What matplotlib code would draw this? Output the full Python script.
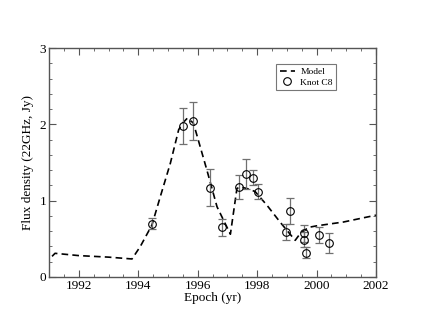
import matplotlib
matplotlib.use("Agg")
import matplotlib.pyplot as plt
import numpy as np
from matplotlib.ticker import MultipleLocator

# observed fluxes, knot C8
epoch = [1994.46, 1995.49, 1995.84, 1996.42, 1996.82, 1997.40, 1997.61, 1997.86,
         1998.02, 1998.98, 1999.10, 1999.58, 1999.59, 1999.64, 2000.07, 2000.43]
flux = [0.70, 1.98, 2.04, 1.17, 0.65, 1.18, 1.35, 1.30,
        1.12, 0.59, 0.87, 0.57, 0.49, 0.32, 0.55, 0.45]
flux_err = [0.07, 0.24, 0.25, 0.24, 0.11, 0.16, 0.20, 0.10,
            0.10, 0.10, 0.17, 0.11, 0.10, 0.07, 0.10, 0.13]

# model curve
model_t = [1991.10, 1991.20, 1992.0, 1993.0, 1993.79, 1994.07, 1994.46, 1994.74,
           1995.08, 1995.36, 1995.50, 1995.65, 1995.85, 1995.92, 1996.31, 1996.65,
           1997.10, 1997.32, 1997.43, 1997.65, 1997.93, 1998.33, 1998.77, 1999.28,
           1999.45, 1999.73, 2000.0, 2000.9, 2002.0]
model_f = [0.27, 0.31, 0.28, 0.26, 0.236, 0.40, 0.68, 1.05,
           1.49, 1.93, 2.02, 2.08, 2.02, 1.93, 1.40, 0.92,
           0.56, 1.16, 1.18, 1.16, 1.12, 0.94, 0.72, 0.48,
           0.57, 0.65, 0.67, 0.72, 0.81]

plt.rcParams['font.family'] = ['Liberation Serif', 'DejaVu Serif']

fig = plt.figure(figsize=(4.23, 3.27), dpi=100)
ax = fig.add_axes([0.116, 0.153, 0.773, 0.700])

ax.plot(model_t, model_f, color='black', ls=(0, (4, 2.5)), lw=1.2, label='Model')
ax.errorbar(epoch, flux, yerr=flux_err, fmt='none', ecolor='#707070',
            elinewidth=0.9, capsize=3, capthick=0.9)
ax.plot(epoch, flux, 'o', mfc='none', mec='black', ms=5.5, mew=0.8, label='Knot C8')

ax.set_xlim(1991, 2002)
ax.set_ylim(0, 3)
ax.xaxis.set_major_locator(MultipleLocator(2))
ax.xaxis.set_minor_locator(MultipleLocator(0.5))
ax.yaxis.set_major_locator(MultipleLocator(1))
ax.yaxis.set_minor_locator(MultipleLocator(0.2))
ax.tick_params(which='both', direction='in', top=True, right=True,
               color='#555555', labelsize=9.5, pad=2)
ax.tick_params(which='major', length=5)
ax.tick_params(which='minor', length=2.5)
for s in ax.spines.values():
    s.set_color('#555555')
    s.set_linewidth(1.0)

ax.set_xlabel('Epoch (yr)', fontsize=9.5, labelpad=0)
ax.set_ylabel('Flux density (22GHz, Jy)', fontsize=9.5, labelpad=4)

leg = ax.legend(loc='upper left', bbox_to_anchor=(0.695, 0.93), fontsize=6.8,
                frameon=True, fancybox=False, edgecolor='#555555',
                borderpad=0.35, handlelength=1.6, handletextpad=0.6,
                labelspacing=0.2, borderaxespad=0)
leg.get_frame().set_linewidth(0.8)

fig.savefig('out.png', dpi=100)
